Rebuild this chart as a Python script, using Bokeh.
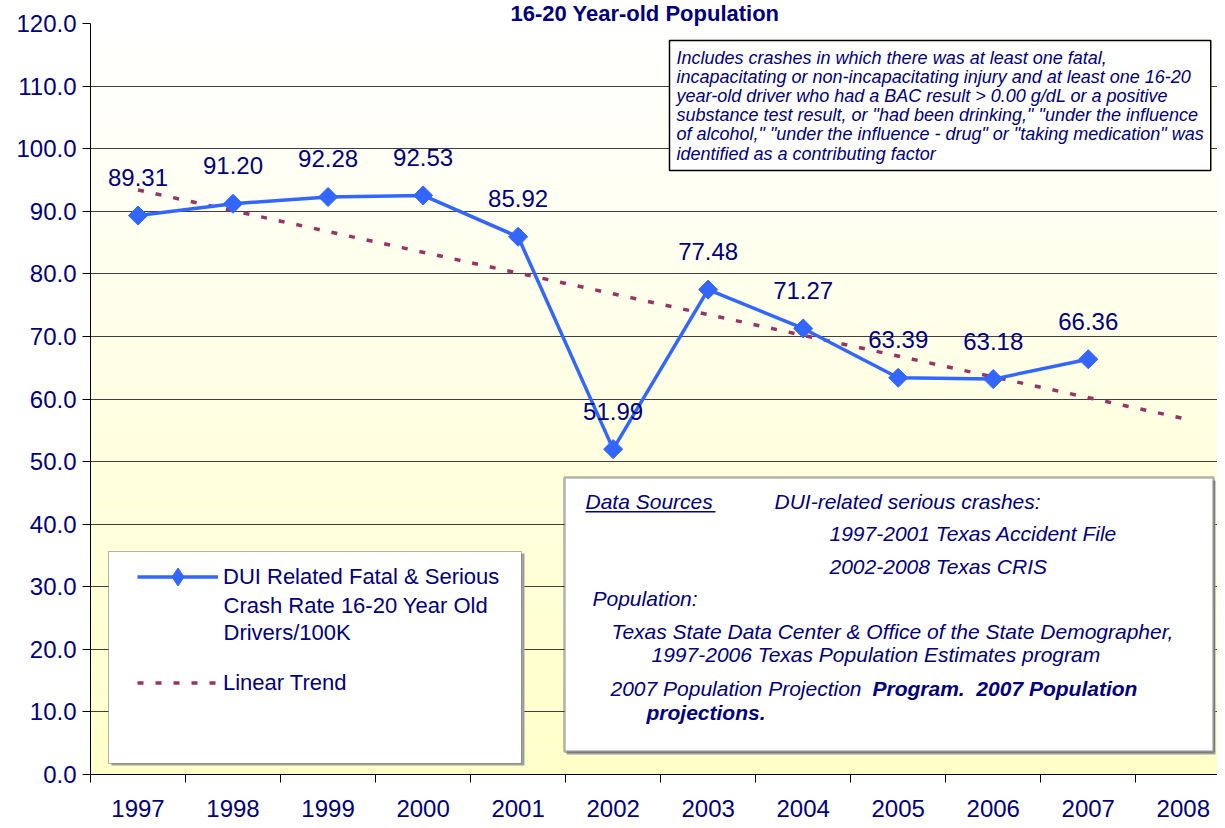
import math
from bokeh.plotting import figure
from bokeh.models import (Range1d, FixedTicker, NumeralTickFormatter, BoxAnnotation, Label,
                          Legend, LegendItem)
from bokeh.core.properties import value
from bokeh.embed import file_html
from bokeh.resources import INLINE

# ---------------- data ----------------
years = [1997, 1998, 1999, 2000, 2001, 2002, 2003, 2004, 2005, 2006, 2007]
all_years = [1997, 1998, 1999, 2000, 2001, 2002, 2003, 2004, 2005, 2006, 2007, 2008]
crash_rate = [89.31, 91.20, 92.28, 92.53, 85.92, 51.99, 77.48, 71.27, 63.39, 63.18, 66.36]
trend_years = [1997, 2008]
trend_values = [93.4, 56.9]
y_ticks = [0, 10, 20, 30, 40, 50, 60, 70, 80, 90, 100, 110, 120]
x_start, x_end = 1996.5, 2008.36   # the reference chart is cropped at its right edge

title_text = "16-20 Year-old Population"
series_label_lines = ["DUI Related Fatal & Serious", "Crash Rate 16-20 Year Old", "Drivers/100K"]
trend_label = "Linear Trend"
note_lines = [
    "Includes crashes in which there was at least one fatal,",
    "incapacitating or non-incapacitating injury and at least one 16-20",
    "year-old driver who had a BAC result > 0.00 g/dL or a positive",
    "substance test result, or \"had been drinking,\" \"under the influence",
    "of alcohol,\" \"under the influence - drug\" or \"taking medication\" was",
    "identified as a contributing factor",
]

FONT = "Liberation Sans"
NAVY = "#000080"
BLUE = "#3366FF"
MAROON = "#993366"

p = figure(width=1217, height=820, output_backend="svg", toolbar_location=None,
           x_range=Range1d(x_start, x_end),
           y_range=Range1d(y_ticks[0], y_ticks[-1]),
           min_border_left=90, min_border_right=0, min_border_top=0, min_border_bottom=46)
p.outline_line_color = None
p.background_fill_color = "white"
p.border_fill_color = "white"

p.title.text = title_text
p.title.text_font = FONT
p.title.text_font_size = "22px"
p.title.text_font_style = "bold"
p.title.text_color = NAVY
p.title.align = "left"
p.title.offset = 420
p.title.standoff = -4
p.title.vertical_align = "bottom"

# background gradient (white top -> light yellow bottom)
N = 60
for i in range(N):
    t = i / (N - 1)
    b = int(round(200 + (255 - 200) * t))
    col = "#%02x%02x%02x" % (255, 255, b)
    p.add_layout(BoxAnnotation(bottom=y_ticks[-1] * i / N, top=y_ticks[-1] * (i + 1) / N,
                               fill_color=col, fill_alpha=1.0, line_color=None, level="image"))

# axes
p.xaxis.ticker = FixedTicker(ticks=all_years,
                             minor_ticks=[y - 0.5 for y in all_years] + [all_years[-1] + 0.5])
p.xaxis.major_label_overrides = {y: str(y) for y in all_years}
p.xaxis.major_tick_line_color = None
p.xaxis.major_tick_out = 0
p.xaxis.major_tick_in = 0
p.xaxis.minor_tick_out = 8
p.xaxis.minor_tick_in = 0
p.xaxis.minor_tick_line_color = "black"
p.xaxis.major_label_standoff = 17

p.yaxis.ticker = FixedTicker(ticks=y_ticks)
p.yaxis.formatter = NumeralTickFormatter(format="0.0")
p.yaxis.major_tick_out = 8
p.yaxis.major_tick_in = 0
p.yaxis.minor_tick_line_color = None
p.yaxis.major_label_standoff = 6

for ax in (p.xaxis, p.yaxis):
    ax.axis_line_color = "black"
    ax.axis_line_width = 1
    ax.major_label_text_font = FONT
    ax.major_label_text_font_size = "24px"
    ax.major_label_text_color = NAVY

p.xgrid.grid_line_color = None
p.ygrid.grid_line_color = "#404040"
p.ygrid.grid_line_width = 1

# trend
trend_r = p.line(trend_years, trend_values, line_color=MAROON, line_width=3.5, line_dash="6 12")

# series
line_r = p.line(years, crash_rate, line_color=BLUE, line_width=3.5)
pts_r = p.scatter(years, crash_rate, marker="square", size=13.5, angle=math.pi / 4,
                  fill_color=BLUE, line_color=BLUE)
# legend key marker (diamond); its single point has no y value, so it is not drawn in the plot
key_r = p.scatter(years[:1], [float("nan")], marker="diamond", size=18,
                  fill_color=BLUE, line_color=BLUE)

p.text(years, crash_rate, text=[f"{v:.2f}" for v in crash_rate],
       text_font=value(FONT), text_font_size="24px", text_color=NAVY,
       text_align="center", text_baseline="alphabetic", y_offset=-38)

def sbox(l, r, b, t, **kw):
    return BoxAnnotation(left=l, right=r, bottom=b, top=t, left_units="screen",
                         right_units="screen", bottom_units="screen", top_units="screen",
                         fill_alpha=1, **kw)

# frame-relative screen coordinates, measured from the frame's bottom-left corner
# note box (top right)
p.add_layout(Label(x=579, y=734, x_units="screen", y_units="screen", text="\n".join(note_lines),
                   text_font=FONT, text_font_size="18px", text_font_style="italic",
                   text_color=NAVY, text_align="left", text_baseline="top",
                   text_line_height=0.96, padding=7,
                   background_fill_color="white", border_line_color="black",
                   border_line_width=1.5))

# legend box
p.add_layout(sbox(21, 434, 9, 221, fill_color="#a0a0a0", line_color=None))
p.add_layout(sbox(18, 431, 11, 223, fill_color="white", line_color="black", line_width=1))
legend = Legend(items=[LegendItem(label=series_label_lines[0], renderers=[line_r, key_r]),
                       LegendItem(label=trend_label, renderers=[trend_r])],
                location=(47, 69), padding=0, margin=0, spacing=61,
                glyph_width=81, glyph_height=45, label_height=28, label_standoff=5,
                label_text_font=FONT, label_text_font_size="22px", label_text_color=NAVY,
                border_line_color=None, background_fill_alpha=0)
p.add_layout(legend)
for txt, sy in zip(series_label_lines[1:], [169, 142]):
    p.add_layout(Label(x=133, y=sy, x_units="screen", y_units="screen", text=txt,
                       text_font=FONT, text_font_size="22px", text_color=NAVY,
                       text_align="left", text_baseline="middle"))

# data sources box
p.add_layout(sbox(476, 1125, 20, 294, fill_color="#a0a0a0", line_color=None))
p.add_layout(sbox(474, 1123, 23, 297, fill_color="white", line_color="black", line_width=2.5))

src_texts = [
    ("Data Sources", 495, 273, "italic"),
    ("DUI-related serious crashes:", 684, 273, "italic"),
    ("1997-2001 Texas Accident File", 739, 241, "italic"),
    ("2002-2008 Texas CRIS", 739, 208, "italic"),
    ("Population:", 502, 176, "italic"),
    ("Texas State Data Center & Office of the State Demographer,", 521, 143, "italic"),
    ("1997-2006 Texas Population Estimates program", 561, 120, "italic"),
    ("2007 Population Projection", 520, 86, "italic"),
    ("Program.\u00a0 2007 Population", 782, 86, "bold italic"),
    ("projections.", 556, 62, "bold italic"),
]
for txt, sx, sy, style in src_texts:
    p.add_layout(Label(x=sx, y=sy, x_units="screen", y_units="screen", text=txt,
                       text_font=FONT, text_font_size="21px", text_font_style=style,
                       text_color=NAVY, text_align="left", text_baseline="middle"))
# underline of "Data Sources"
p.add_layout(sbox(495, 625, 262, 263.5, fill_color=NAVY, line_color=None))

open("out.html", "w").write(file_html(p, INLINE))
